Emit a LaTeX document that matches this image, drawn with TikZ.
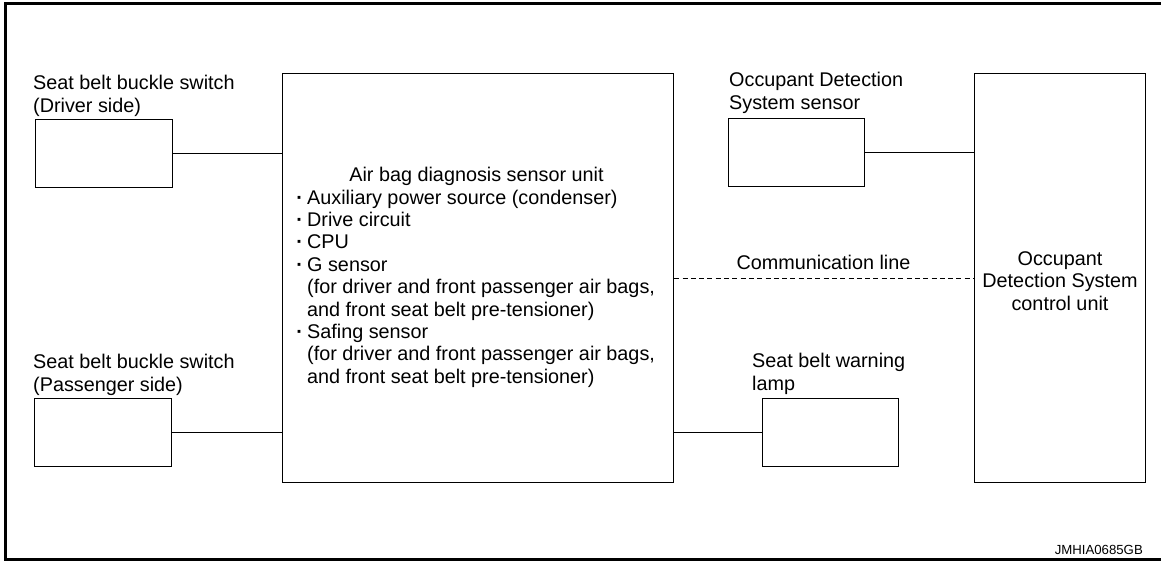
\documentclass[tikz,border=0pt]{standalone}
\usepackage{fontspec}
\setmainfont{Liberation Sans}
\newcommand\mybul{\makebox[10.5pt][l]{\hspace*{-0.3pt}\bfseries ·}}
\newcommand\myind{\makebox[10.5pt][l]{}}
\begin{document}
\begin{tikzpicture}[x=1pt,y=-1pt,
  box/.style={draw, line width=1.2pt, inner sep=0pt, anchor=north west},
  wire/.style={line width=1.2pt},
  lbl/.style={inner sep=0pt, anchor=base west, align=left, font=\fontsize{19.8}{23}\selectfont},
  frameline/.style={line width=3pt}
]
\useasboundingbox (0,0) rectangle (1161,561);
\draw[frameline] (1161,3.5) -- (5.5,3.5) -- (5.5,559.5) -- (1161,559.5);

\node[box, minimum width=137pt, minimum height=68pt] (drv) at (35,119) {};
\node[box, minimum width=137pt, minimum height=68pt] (pass) at (34,398) {};
\node[box, minimum width=391pt, minimum height=409pt] (main) at (282,73) {};
\node[box, minimum width=136pt, minimum height=68pt] (ods) at (728,118) {};
\node[box, minimum width=136pt, minimum height=68pt] (lamp) at (762,398) {};
\node[box, minimum width=171pt, minimum height=409pt] (ctrl) at (974,73) {};

\draw[wire] (drv.east) -- (drv.east -| main.west);
\draw[wire] (pass.east) -- (pass.east -| main.west);
\draw[wire] (ods.east) -- (ods.east -| ctrl.west);
\draw[wire] (main.east |- lamp.west) -- (lamp.west);
\draw[wire, dash pattern=on 5pt off 3.3pt] (main.east) -- (ctrl.west);

% base anchor of a multi-line node = baseline of its last line
\node[lbl] (drvlbl) at (33,112.3) {Seat belt buckle switch\\(Driver side)};
\node[lbl] (passlbl) at (33,391) {Seat belt buckle switch\\(Passenger side)};
\node[lbl] (odslbl) at (729,110) {Occupant Detection\\System sensor};
\node[lbl] (lamplbl) at (752,390) {Seat belt warning\\lamp};
\node[lbl, anchor=base] (comm) at (823.5,269.3) {Communication line};
\node[lbl, anchor=base, align=center, font=\fontsize{19.8}{22.5}\selectfont] (ctrllbl) at (1060,310) {Occupant\\Detection System\\control unit};
\node[lbl, anchor=base] (title) at (476.5,181.7) {Air bag diagnosis sensor unit};
\node[lbl, font=\fontsize{19.8}{22.4}\selectfont] (list) at (296.5,383.3) {\mybul Auxiliary power source (condenser)\\
\mybul Drive circuit\\
\mybul CPU\\
\mybul G sensor\\
\myind(for driver and front passenger air bags,\\
\myind and front seat belt pre-tensioner)\\
\mybul Safing sensor\\
\myind(for driver and front passenger air bags,\\
\myind and front seat belt pre-tensioner)};
\node[lbl, anchor=base east, font=\fontsize{13.2}{15}\selectfont] (code) at (1143,554) {JMHIA0685GB};
\end{tikzpicture}
\end{document}
